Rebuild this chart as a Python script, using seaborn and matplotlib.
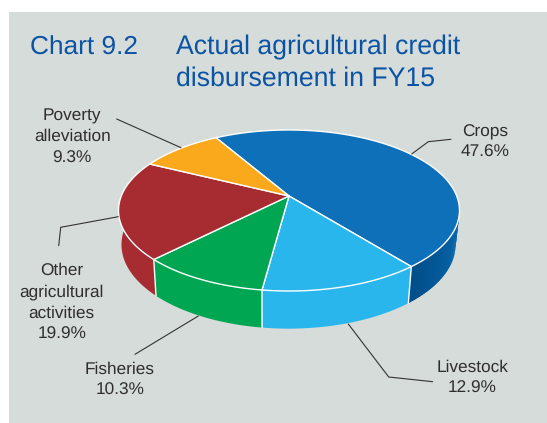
import numpy as np
import matplotlib
matplotlib.use("Agg")
import matplotlib.pyplot as plt
from matplotlib.patches import Polygon, Rectangle
import seaborn as sns

# Shares of agricultural credit, clockwise from the first slice
categories = ["Crops", "Livestock", "Fisheries", "Other agricultural activities", "Poverty alleviation"]
shares = [47.6, 12.9, 10.3, 19.9, 9.3]
slice_colors = ["#0D70B9", "#29B6EC", "#00A651", "#A62C32", "#FBA91C"]
crops_shadow = "#004E8A"
panel_color = "#D6DCD9"
title_color = "#0B53A4"
text_color = "#2E2E2E"

sns.set_theme(style="white")
plt.rcParams["font.family"] = ["Liberation Sans", "DejaVu Sans"]
plt.rcParams["text.hinting"] = "none"

W, H = 547, 423
fig = plt.figure(figsize=(W / 100, H / 100), dpi=100, facecolor="white")
ax = fig.add_axes([0, 0, 1, 1])
ax.set_xlim(0, W)
ax.set_ylim(H, 0)
ax.axis("off")
ax.add_patch(Rectangle((9, 12), W - 9, H - 12, fc=panel_color, ec="none", zorder=0))

# Perspective projection of a tilted disc: the near rim looks larger than the far rim
TILT = 0.18
START_DEG = -30.2


def project(theta_deg, apex_x, apex_y, a, b):
    t = np.radians(theta_deg)
    u, v = np.sin(t), np.cos(t)
    w = 1 + TILT * v
    return np.column_stack([apex_x + a * u / w, apex_y - b * v / w])


def top_rim(theta):
    return project(theta, 289.0, 196.0, 167.7, 77.9)


def bottom_rim(theta):
    return project(theta, 288.5, 229.5, 164.3, 81.3)


edges = START_DEG + 3.6 * np.concatenate([[0], np.cumsum(shares)])

# Side walls
palette = sns.color_palette(slice_colors)
for i, col in enumerate(palette):
    th = np.linspace(edges[i], edges[i + 1], 240)
    if i == 0:
        # The crops wall darkens towards its front edge
        steps = 40
        th_start = 95.0
        shade = sns.blend_palette([col, crops_shadow], steps)
        cuts = np.linspace(th_start, edges[1], steps + 1)
        base = np.linspace(edges[0], th_start + 1, 120)
        ax.add_patch(Polygon(np.vstack([top_rim(base), bottom_rim(base)[::-1]]), fc=col, ec="none", zorder=1))
        for k in range(steps):
            seg = np.linspace(cuts[k], cuts[k + 1] + 1.0 if k < steps - 1 else cuts[k + 1], 5)
            ax.add_patch(Polygon(np.vstack([top_rim(seg), bottom_rim(seg)[::-1]]),
                                 fc=shade[k], ec="none", zorder=1))
    else:
        ax.add_patch(Polygon(np.vstack([top_rim(th), bottom_rim(th)[::-1]]), fc=col, ec="none", zorder=1))

for e in edges[1:4]:
    a_pt, b_pt = top_rim(np.array([e]))[0], bottom_rim(np.array([e]))[0]
    ax.plot([a_pt[0], b_pt[0]], [a_pt[1], b_pt[1]], color="white", lw=1.0, zorder=2)

# Top faces
apex = np.array([289.0, 196.0])
for i, col in enumerate(palette):
    th = np.linspace(edges[i], edges[i + 1], 240)
    ax.add_patch(Polygon(np.vstack([[apex], top_rim(th)]), closed=True, fc=col, ec="white",
                         lw=1.0, joinstyle="round", zorder=3))

# Leader lines
leaders = [
    [(411.7, 154), (428.3, 141.7), (451, 139.3)],
    [(116.7, 119), (181, 147.7)],
    [(118.3, 216.7), (60.7, 227.3), (58.7, 245.7)],
    [(135, 354.3), (198.3, 316)],
    [(348.3, 324), (388.7, 377), (432.7, 381.7)],
]
for pts in leaders:
    xs, ys = zip(*pts)
    ax.plot(xs, ys, color="#333333", lw=0.8, zorder=4)

# Slice labels, one text per line
labels = [
    (485, [136, 157.3], ["Crops", f"{shares[0]}%"]),
    (472.3, [371.7, 393.3], ["Livestock", f"{shares[1]}%"]),
    (120, [374, 395], ["Fisheries", f"{shares[2]}%"]),
    (61.7, [275, 296.7, 317.7, 339.3], ["Other", "agricultural", "activities", f"{shares[3]}%"]),
    (72.3, [120, 140.7, 162.7], ["Poverty", "alleviation", f"{shares[4]}%"]),
]
for cx, baselines, lines in labels:
    for y, line in zip(baselines, lines):
        ax.text(cx, y, line, ha="center", va="baseline", fontsize=12.4, color=text_color, zorder=5)

# Heading
ax.text(30, 54.3, "Chart 9.2", fontsize=18.9, color=title_color, va="baseline")
ax.text(175.5, 54.3, "Actual agricultural credit", fontsize=19.2, color=title_color, va="baseline")
ax.text(175.5, 85.7, "disbursement in FY15", fontsize=19.2, color=title_color, va="baseline")

fig.savefig("out.png", dpi=100)
